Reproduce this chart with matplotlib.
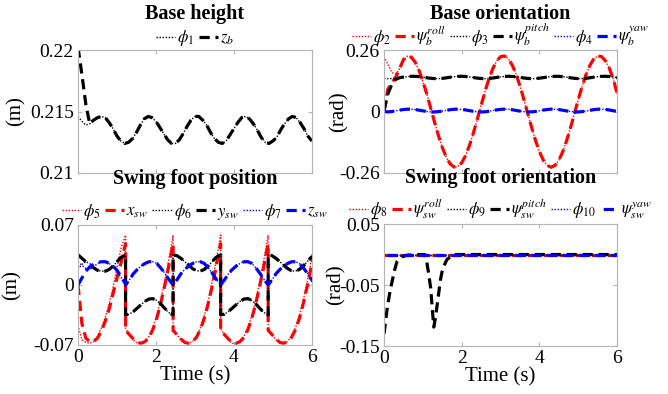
import numpy as np
import matplotlib
matplotlib.use("Agg")
import matplotlib.pyplot as plt

plt.rcParams['font.family'] = ['Liberation Serif', 'DejaVu Serif']
plt.rcParams['mathtext.fontset'] = 'stix'

# ---- data ----
t = np.round(np.arange(0, 6.01, 0.1), 2)

# base height (m)
phi_1 = [0.2146, 0.2142, 0.2139, 0.2140, 0.2143, 0.2145, 0.2146, 0.2145, 0.2141, 0.2136,
         0.2130, 0.2126, 0.2124, 0.2125, 0.2128, 0.2133, 0.2139, 0.2144, 0.2146, 0.2145,
         0.2142, 0.2137, 0.2132, 0.2127, 0.2124, 0.2124, 0.2127, 0.2132, 0.2138, 0.2143,
         0.2146, 0.2146, 0.2143, 0.2139, 0.2133, 0.2128, 0.2125, 0.2124, 0.2126, 0.2131,
         0.2136, 0.2141, 0.2145, 0.2146, 0.2144, 0.2140, 0.2135, 0.2129, 0.2125, 0.2124,
         0.2126, 0.2129, 0.2135, 0.2140, 0.2144, 0.2146, 0.2145, 0.2141, 0.2136, 0.2130,
         0.2126]
z_b_head_t = [0.0, 0.1, 0.2, 0.3]
z_b_head = [0.2202, 0.2180, 0.2156, 0.2140]

# base orientation (rad)
phi_2 = [0.233, 0.200, 0.165, 0.158, 0.180, 0.215, 0.234, 0.230, 0.209, 0.174,
         0.128, 0.074, 0.015, -0.045, -0.102, -0.152, -0.193, -0.221, -0.235, -0.233,
         -0.217, -0.186, -0.143, -0.091, -0.033, 0.027, 0.085, 0.138, 0.182, 0.214,
         0.232, 0.235, 0.223, 0.196, 0.157, 0.107, 0.051, -0.009, -0.068, -0.123,
         -0.170, -0.206, -0.228, -0.236, -0.228, -0.206, -0.170, -0.123, -0.068, -0.009,
         0.051, 0.107, 0.157, 0.196, 0.223, 0.235, 0.232, 0.214, 0.182, 0.138,
         0.075]
roll_b_head = [0.000, 0.095, 0.120, 0.145, 0.180, 0.220, 0.234]
phi_3 = [0.1401, 0.1391, 0.1393, 0.1408, 0.1430, 0.1456, 0.1477, 0.1489, 0.1488, 0.1475,
         0.1453, 0.1428, 0.1406, 0.1392, 0.1391, 0.1402, 0.1423, 0.1448, 0.1471, 0.1486,
         0.1490, 0.1480, 0.1460, 0.1436, 0.1412, 0.1395, 0.1390, 0.1398, 0.1416, 0.1441,
         0.1465, 0.1483, 0.1490, 0.1484, 0.1467, 0.1443, 0.1418, 0.1399, 0.1390, 0.1394,
         0.1410, 0.1433, 0.1458, 0.1479, 0.1489, 0.1487, 0.1473, 0.1451, 0.1426, 0.1404,
         0.1392, 0.1392, 0.1404, 0.1426, 0.1451, 0.1473, 0.1487, 0.1489, 0.1479, 0.1458,
         0.1433]
pitch_b_head = [0.005, 0.075, 0.115, 0.136]
phi_4 = [-0.0019, -0.0017, 0.0000, 0.0027, 0.0057, 0.0083, 0.0098, 0.0098, 0.0083, 0.0057,
         0.0027, 0.0000, -0.0017, -0.0019, -0.0006, 0.0018, 0.0048, 0.0076, 0.0095, 0.0100,
         0.0089, 0.0066, 0.0036, 0.0007, -0.0013, -0.0020, -0.0012, 0.0010, 0.0039, 0.0069,
         0.0091, 0.0100, 0.0094, 0.0074, 0.0045, 0.0016, -0.0008, -0.0020, -0.0016, 0.0002,
         0.0030, 0.0060, 0.0085, 0.0099, 0.0097, 0.0081, 0.0054, 0.0024, -0.0002, -0.0018,
         -0.0018, -0.0004, 0.0021, 0.0051, 0.0079, 0.0096, 0.0099, 0.0087, 0.0063, 0.0033,
         0.0005]
yaw_b_head = [0.0]

# swing foot position (m), one row per step
step_start = [0.0, 1.22, 2.44, 3.66, 4.88]
step_rel = [0.0, 0.1, 0.2, 0.3, 0.4, 0.5, 0.6, 0.7, 0.8, 0.9, 1.0, 1.1, 1.22]
phi_5 = [[-0.047, -0.064, -0.067, -0.068, -0.066, -0.060, -0.050, -0.038, -0.022, -0.003, 0.020, 0.042, 0.058],
         [-0.051, -0.058, -0.064, -0.068, -0.068, -0.066, -0.060, -0.050, -0.036, -0.018, 0.003, 0.027, 0.058],
         [-0.051, -0.058, -0.064, -0.068, -0.068, -0.066, -0.060, -0.050, -0.036, -0.018, 0.003, 0.027, 0.058],
         [-0.051, -0.058, -0.064, -0.068, -0.068, -0.066, -0.060, -0.050, -0.036, -0.018, 0.003, 0.027, 0.058],
         [-0.051, -0.058, -0.064, -0.068, -0.068, -0.066, -0.060, -0.050, -0.036, -0.018, 0.003, 0.027, 0.058]]
x_sw = [[0.000, -0.045, -0.062, -0.066, -0.066, -0.062, -0.054, -0.042, -0.028, -0.010, 0.008, 0.025, 0.048],
        [-0.053, -0.058, -0.063, -0.067, -0.068, -0.066, -0.061, -0.052, -0.039, -0.022, -0.002, 0.020, 0.048],
        [-0.053, -0.058, -0.063, -0.067, -0.068, -0.066, -0.061, -0.052, -0.039, -0.022, -0.002, 0.020, 0.048],
        [-0.053, -0.058, -0.063, -0.067, -0.068, -0.066, -0.061, -0.052, -0.039, -0.022, -0.002, 0.020, 0.048],
        [-0.053, -0.058, -0.063, -0.067, -0.068, -0.066, -0.061, -0.052, -0.039, -0.022, -0.002, 0.020, 0.048]]
phi_6 = [[0.018, 0.024, 0.027, 0.025, 0.020, 0.017, 0.016, 0.016, 0.018, 0.022, 0.027, 0.032, 0.035],
         [-0.035, -0.034, -0.031, -0.027, -0.023, -0.019, -0.0165, -0.016, -0.018, -0.022, -0.027, -0.032, -0.035],
         [0.035, 0.034, 0.031, 0.027, 0.023, 0.019, 0.0165, 0.016, 0.018, 0.022, 0.027, 0.032, 0.035],
         [-0.035, -0.034, -0.031, -0.027, -0.023, -0.019, -0.0165, -0.016, -0.018, -0.022, -0.027, -0.032, -0.035],
         [0.035, 0.034, 0.031, 0.027, 0.023, 0.019, 0.0165, 0.016, 0.018, 0.022, 0.027, 0.032, 0.035]]
y_sw = [[0.035, 0.031, 0.027, 0.023, 0.020, 0.017, 0.0155, 0.016, 0.018, 0.022, 0.027, 0.032, 0.035],
        [-0.035, -0.034, -0.031, -0.027, -0.023, -0.019, -0.0165, -0.016, -0.018, -0.022, -0.027, -0.032, -0.035],
        [0.035, 0.034, 0.031, 0.027, 0.023, 0.019, 0.0165, 0.016, 0.018, 0.022, 0.027, 0.032, 0.035],
        [-0.035, -0.034, -0.031, -0.027, -0.023, -0.019, -0.0165, -0.016, -0.018, -0.022, -0.027, -0.032, -0.035],
        [0.035, 0.034, 0.031, 0.027, 0.023, 0.019, 0.0165, 0.016, 0.018, 0.022, 0.027, 0.032, 0.035]]
phi_7 = [[0.027, 0.023, 0.019, 0.018, 0.021, 0.025, 0.027, 0.027, 0.025, 0.021, 0.016, 0.009, 0.001],
         [0.000, 0.006, 0.013, 0.018, 0.022, 0.025, 0.027, 0.027, 0.025, 0.020, 0.014, 0.007, 0.000],
         [0.000, 0.006, 0.013, 0.018, 0.022, 0.025, 0.027, 0.027, 0.025, 0.020, 0.014, 0.007, 0.000],
         [0.000, 0.006, 0.013, 0.018, 0.022, 0.025, 0.027, 0.027, 0.025, 0.020, 0.014, 0.007, 0.000],
         [0.000, 0.006, 0.013, 0.018, 0.022, 0.025, 0.027, 0.027, 0.025, 0.020, 0.014, 0.007, 0.000]]
z_sw = [[0.000, 0.008, 0.016, 0.021, 0.024, 0.026, 0.027, 0.027, 0.025, 0.022, 0.017, 0.010, 0.001],
        [0.000, 0.006, 0.013, 0.018, 0.022, 0.025, 0.027, 0.027, 0.025, 0.020, 0.014, 0.007, 0.000],
        [0.000, 0.006, 0.013, 0.018, 0.022, 0.025, 0.027, 0.027, 0.025, 0.020, 0.014, 0.007, 0.000],
        [0.000, 0.006, 0.013, 0.018, 0.022, 0.025, 0.027, 0.027, 0.025, 0.020, 0.014, 0.007, 0.000],
        [0.000, 0.006, 0.013, 0.018, 0.022, 0.025, 0.027, 0.027, 0.025, 0.020, 0.014, 0.007, 0.000]]

# swing foot orientation (rad)
t_flat = [0.0, 6.0]
flat_zero = [0.0, 0.0]
t_pitch_sw = [0.0, 0.08, 0.16, 0.27, 0.33, 0.45, 0.6, 1.0, 1.05, 1.1, 1.15, 1.2, 1.28,
              1.32, 1.39, 1.45, 1.51, 1.62, 1.79, 6.0]
pitch_sw = [-0.130, -0.089, -0.058, -0.026, -0.012, -0.004, -0.001, 0.0, 0.0, -0.012, -0.032,
            -0.055, -0.119, -0.105, -0.072, -0.042, -0.023, -0.008, 0.0, 0.0]

# ---- helpers ----
t_sw = np.concatenate([s + np.array(step_rel) for s in step_start])


def flat(rows):
    return np.concatenate([np.array(r) for r in rows])


ref_kw = dict(linestyle=(0, (1, 1.2)), linewidth=1.0)
act_kw = dict(linestyle=(0, (3.2, 1.8)), linewidth=2.3)
gray = '#b4b4b4'


def style(ax, yticks, ylabels, ylabel, xlab, ylab_x):
    ax.set_xlim(0, 6)
    ax.set_ylim(yticks[0], yticks[-1])
    ax.set_xticks([0, 2, 4, 6])
    ax.set_yticks(yticks)
    ax.set_yticklabels(ylabels)
    if xlab:
        ax.set_xticklabels(['0', '2', '4', '6'])
        ax.set_xlabel('Time (s)', fontsize=15, labelpad=0)
    else:
        ax.set_xticklabels([])
    ax.set_ylabel(ylabel, fontsize=15)
    ax.yaxis.set_label_coords(ylab_x, 0.5)
    ax.tick_params(direction='in', length=3, color=gray, labelsize=14,
                   top=True, right=True, pad=3)
    for s in ax.spines.values():
        s.set_color(gray)
        s.set_linewidth(0.8)


def leg(ax, ncol, y):
    ax.legend(loc='lower center', bbox_to_anchor=(0.5, y), ncol=ncol, frameon=False,
              fontsize=12, handlelength=1.15, handletextpad=0.12, columnspacing=0.25,
              borderaxespad=0.0, borderpad=0.1)


def title(ax, txt, y):
    ax.text(0.5, y, txt, transform=ax.transAxes, ha='center', va='center',
            fontsize=14.5, fontweight='bold')


fig = plt.figure(figsize=(6.68, 3.94), dpi=100)
ax1 = fig.add_axes([0.1168, 0.561, 0.350, 0.312])
ax2 = fig.add_axes([0.5749, 0.561, 0.349, 0.312])
ax3 = fig.add_axes([0.1168, 0.1244, 0.350, 0.305])
ax4 = fig.add_axes([0.5749, 0.1218, 0.349, 0.3096])

# base height
ax1.plot(t, phi_1, color='k', label=r'$\phi_\mathit{1}$', **ref_kw)
ax1.plot(np.concatenate([z_b_head_t, t[4:]]), np.concatenate([z_b_head, phi_1[4:]]),
         color='k', label=r'$z_b$', **act_kw)
style(ax1, [0.21, 0.215, 0.22], ['0.21', '0.215', '0.22'], '(m)', False, -0.225)
leg(ax1, 2, 1.0)
title(ax1, 'Base height', 1.29)

# base orientation
ax2.plot(t, phi_2, color='r', label=r'$\phi_\mathit{2}$', **ref_kw)
ax2.plot(t, np.concatenate([roll_b_head, phi_2[7:]]), color='r',
         label=r'$\psi_b^{roll}$', **act_kw)
ax2.plot(t, phi_3, color='k', label=r'$\phi_\mathit{3}$', **ref_kw)
ax2.plot(t, np.concatenate([pitch_b_head, phi_3[4:]]), color='k',
         label=r'$\psi_b^{pitch}$', **act_kw)
ax2.plot(t, phi_4, color='b', label=r'$\phi_\mathit{4}$', **ref_kw)
ax2.plot(t, np.concatenate([yaw_b_head, phi_4[1:]]), color='b',
         label=r'$\psi_b^{yaw}$', **act_kw)
style(ax2, [-0.26, 0, 0.26], ['-0.26', '0', '0.26'], '(rad)', False, -0.15)
leg(ax2, 6, 1.0)
title(ax2, 'Base orientation', 1.29)

# swing foot position
ax3.plot(t_sw, flat(phi_5), color='r', label=r'$\phi_\mathit{5}$', **ref_kw)
ax3.plot(t_sw, flat(x_sw), color='r', label=r'$x_{sw}$', **act_kw)
ax3.plot(t_sw, flat(phi_6), color='k', label=r'$\phi_\mathit{6}$', **ref_kw)
ax3.plot(t_sw, flat(y_sw), color='k', label=r'$y_{sw}$', **act_kw)
ax3.plot(t_sw, flat(phi_7), color='b', label=r'$\phi_\mathit{7}$', **ref_kw)
ax3.plot(t_sw, flat(z_sw), color='b', label=r'$z_{sw}$', **act_kw)
style(ax3, [-0.07, 0, 0.07], ['-0.07', '0', '0.07'], '(m)', True, -0.24)
leg(ax3, 6, 1.01)
title(ax3, 'Swing foot position', 1.38)

# swing foot orientation
ax4.plot(t_flat, flat_zero, color='r', label=r'$\phi_\mathit{8}$', **ref_kw)
ax4.plot(t_flat, flat_zero, color='r', label=r'$\psi_{sw}^{roll}$', **act_kw)
ax4.plot(t_flat, flat_zero, color='k', label=r'$\phi_\mathit{9}$', **ref_kw)
ax4.plot(t_pitch_sw, pitch_sw, color='k', label=r'$\psi_{sw}^{pitch}$', **act_kw)
ax4.plot(t_flat, flat_zero, color='b', label=r'$\phi_\mathit{10}$', **ref_kw)
ax4.plot(t_flat, flat_zero, color='b', label=r'$\psi_{sw}^{yaw}$',
         linestyle=(4, (3.2, 1.8)), linewidth=2.3)
style(ax4, [-0.15, -0.05, 0.05], ['-0.15', '-0.05', '0.05'], '(rad)', True, -0.165)
leg(ax4, 6, 1.01)
title(ax4, 'Swing foot orientation', 1.38)

fig.savefig('out.png', dpi=100)
